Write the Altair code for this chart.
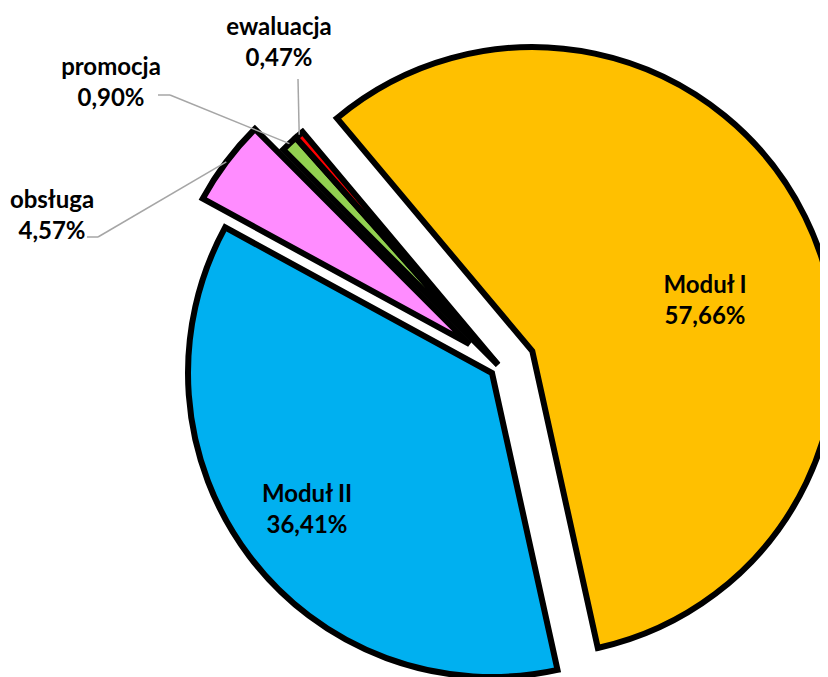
import altair as alt
import pandas as pd

# ---- data ----
categories = ["Moduł I", "Moduł II", "obsługa", "promocja", "ewaluacja"]
values = [57.66, 36.41, 4.57, 0.90, 0.47]

# ---- style / layout (kept apart from data) ----
colors = ["#FFC000", "#00B0F0", "#FF8CFF", "#92D050", "#FF0000"]
explode = [36, 10, 38, 3, 3]          # px offset of each slice along its mid angle
label_x = [697, 299, 44, 103, 271]    # label block centres (chart px)
label_y = [293, 502, 208, 75, 35]
has_leader = [False, False, True, True, True]
elbow_x = [0, 0, 90, 162, 290]
elbow_y = [0, 0, 229, 87, 71]
end_x = [0, 0, 79, 150, 290]
end_y = [0, 0, 229, 87, 71]

CX, CY, R = 492, 359, 304
START_DEG = -40

def pct(v):
    return f"{v:.2f}".replace(".", ",") + "%"

df = pd.DataFrame({
    "order": list(range(len(categories))),
    "category": categories,
    "value": values,
    "explode": explode,
    "label": [f"{c}\n{pct(v)}" for c, v in zip(categories, values)],
    "lx": label_x, "ly": label_y,
    "leader": has_leader,
    "ex": elbow_x, "ey": elbow_y,
    "tx": end_x, "ty": end_y,
})

start = f"({START_DEG} * PI / 180)"
base = (
    alt.Chart(df)
    .transform_window(cum="sum(value)", sort=[alt.SortField("order")], frame=[None, 0])
    .transform_joinaggregate(total="sum(value)")
    .transform_calculate(t0=f"{start} + 2 * PI * (datum.cum - datum.value) / datum.total")
    .transform_calculate(t1=f"{start} + 2 * PI * datum.cum / datum.total")
    .transform_calculate(mid="(datum.t0 + datum.t1) / 2")
    .transform_calculate(vx=f"{CX} + datum.explode * sin(datum.mid)")
    .transform_calculate(vy=f"{CY} - datum.explode * cos(datum.mid)")
    .transform_calculate(ax=f"datum.vx + {R} * sin(datum.mid)")
    .transform_calculate(ay=f"datum.vy - {R} * cos(datum.mid)")
)

arcs = base.mark_arc(
    outerRadius=R, stroke="black", strokeWidth=6,
    strokeJoin="miter", strokeMiterLimit=4,
).encode(
    x=alt.X("vx:Q", scale=None, axis=None),
    y=alt.Y("vy:Q", scale=None, axis=None),
    theta=alt.Theta("t0:Q", scale=None, stack=None),
    theta2=alt.Theta2("t1:Q"),
    color=alt.Color("category:N", scale=alt.Scale(domain=categories, range=colors), legend=None),
    order=alt.Order("order:Q"),
)

leaders = base.transform_filter("datum.leader")
seg1 = leaders.mark_rule(color="#A6A6A6", strokeWidth=1.5).encode(
    x=alt.X("ax:Q", scale=None, axis=None),
    y=alt.Y("ay:Q", scale=None, axis=None),
    x2="ex:Q", y2="ey:Q",
)
seg2 = leaders.mark_rule(color="#A6A6A6", strokeWidth=1.5).encode(
    x=alt.X("ex:Q", scale=None, axis=None),
    y=alt.Y("ey:Q", scale=None, axis=None),
    x2="tx:Q", y2="ty:Q",
)

labels = base.mark_text(
    font="Lato", fontWeight="bold", fontSize=24, lineBreak="\n", lineHeight=31,
    align="center", baseline="middle", color="black", dy=-15.5,
).encode(
    x=alt.X("lx:Q", scale=None, axis=None),
    y=alt.Y("ly:Q", scale=None, axis=None),
    text="label:N",
)

chart = (
    alt.layer(arcs, seg1, seg2, labels)
    .properties(width=812, height=669, autosize=alt.AutoSizeParams(type="none"), padding=0,
                background="white")
    .configure_view(stroke=None)
)

chart.save("out.html", embed_options={"renderer": "svg", "actions": False})
